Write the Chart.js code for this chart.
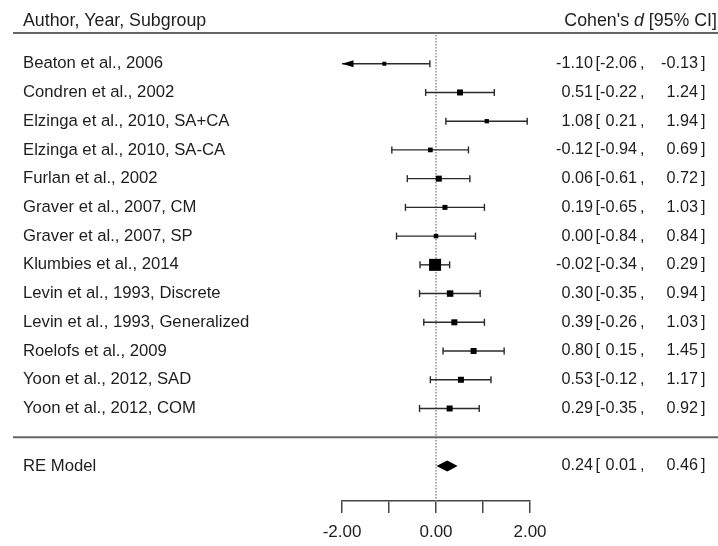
<!DOCTYPE html>
<html>
<head>
<meta charset="utf-8">
<script src="https://cdn.jsdelivr.net/npm/chart.js@4/dist/chart.umd.min.js"></script>
<style>
  html, body { margin: 0; padding: 0; background: #fff; }
  #wrap { width: 718px; height: 546px; position: relative; }
</style>
</head>
<body>
<div id="wrap"><canvas id="forest"></canvas></div>
<script>
// Forest plot - Cohen's d with 95% CI per study, random-effects summary at the bottom

const studies = [
  'Beaton et al., 2006',
  'Condren et al., 2002',
  'Elzinga et al., 2010, SA+CA',
  'Elzinga et al., 2010, SA-CA',
  'Furlan et al., 2002',
  'Graver et al., 2007, CM',
  'Graver et al., 2007, SP',
  'Klumbies et al., 2014',
  'Levin et al., 1993, Discrete',
  'Levin et al., 1993, Generalized',
  'Roelofs et al., 2009',
  'Yoon et al., 2012, SAD',
  'Yoon et al., 2012, COM'
];
const estimates = [-1.10, 0.51, 1.08, -0.12, 0.06, 0.19, 0.00, -0.02, 0.30, 0.39, 0.80, 0.53, 0.29];
const lowerCI   = [-2.06, -0.22, 0.21, -0.94, -0.61, -0.65, -0.84, -0.34, -0.35, -0.26, 0.15, -0.12, -0.35];
const upperCI   = [-0.13, 1.24, 1.94, 0.69, 0.72, 1.03, 0.84, 0.29, 0.94, 1.03, 1.45, 1.17, 0.92];
const boxSizes  = [4, 6, 4.3, 4.7, 6, 5, 4.5, 12, 6.5, 6, 6, 6, 6]; // px, side of the weight square

const summaryLabel = 'RE Model';
const summaryEst = 0.24;
const summaryLower = 0.01;
const summaryUpper = 0.46;

const xTicks = [-2, -1, 0, 1, 2];
const xLabelled = [-2, 0, 2];
const X_MIN = -2, X_MAX = 2;

const FONT = '"Liberation Sans", Arial, sans-serif';
const TEXT = '#1e1e1e';
const nStudies = studies.length;
const sepRow = nStudies;        // horizontal rule above summary
const summaryRow = nStudies + 1;
const headerRow = -1.5;
const headerRule = -1.07;

// datasets (higher order = drawn first / underneath)
const ciSets = studies.map((s, i) => ({
  data: [{ x: Math.max(lowerCI[i], X_MIN), y: i }, { x: upperCI[i], y: i }],
  showLine: true,
  borderColor: '#2a2a2a',
  borderWidth: 1.4,
  pointRadius: 0,
  clip: false,
  order: 2
}));

const caps = [];
studies.forEach((s, i) => {
  if (lowerCI[i] >= X_MIN) caps.push({ x: lowerCI[i], y: i });
  if (upperCI[i] <= X_MAX) caps.push({ x: upperCI[i], y: i });
});

const refLine = {
  data: [{ x: 0, y: -1 }, { x: 0, y: 15.22 }],
  showLine: true,
  borderColor: '#8a8a8a',
  borderWidth: 1.5,
  borderDash: [1.5, 1.5],
  pointRadius: 0,
  clip: false,
  order: 3
};

const capSet = {
  data: caps,
  pointStyle: 'line',
  rotation: 90,
  pointRadius: 3.5,
  borderColor: '#2a2a2a',
  borderWidth: 1.4,
  clip: false,
  order: 1
};

const boxSet = {
  data: estimates.map((v, i) => ({ x: v, y: i })),
  pointStyle: 'rect',
  pointRadius: boxSizes.map(s => s / Math.SQRT2),
  backgroundColor: '#000',
  borderWidth: 0,
  clip: false,
  order: 0
};

function fmt(v) { return v.toFixed(2); }

const forestText = {
  id: 'forestText',
  afterDraw(chart) {
    const c = chart.ctx;
    const xs = chart.scales.x, ys = chart.scales.y;
    const yp = v => ys.getPixelForValue(v);
    c.save();

    // rules
    c.strokeStyle = '#666';
    c.lineWidth = 2;
    [headerRule, sepRow].forEach(r => {
      c.beginPath();
      c.moveTo(13, yp(r));
      c.lineTo(718, yp(r));
      c.stroke();
    });

    c.fillStyle = TEXT;
    c.textBaseline = 'middle';

    // header
    const hFont = '17.8px ' + FONT, hItal = 'italic 17.8px ' + FONT;
    c.font = hFont;
    c.textAlign = 'left';
    c.fillText('Author, Year, Subgroup', 23, yp(headerRow));
    const partA = "Cohen's ", partB = 'd', partC = ' [95% CI]';
    const wC = c.measureText(partC).width;
    const wA = c.measureText(partA).width;
    c.font = hItal;
    const wB = c.measureText(partB).width;
    let hx = 717 - wA - wB - wC;
    c.font = hFont;
    c.fillText(partA, hx, yp(headerRow));
    c.font = hItal;
    c.fillText(partB, hx + wA, yp(headerRow));
    c.font = hFont;
    c.fillText(partC, hx + wA + wB, yp(headerRow));

    const labelFont = '16.7px ' + FONT;
    const valueFont = '16.2px ' + FONT;

    function ciText(y, est, lo, hi) {
      c.font = valueFont;
      c.textAlign = 'right';
      c.fillText(fmt(est), 593, y);
      c.fillText(fmt(lo), 637, y);
      c.fillText(fmt(hi), 698, y);
      c.textAlign = 'left';
      c.fillText('[', 595.5, y);
      c.fillText(',', 640, y);
      c.fillText(']', 701, y);
    }

    studies.forEach((s, i) => {
      c.font = labelFont;
      c.textAlign = 'left';
      c.fillText(s, 23, yp(i));
      ciText(yp(i), estimates[i], lowerCI[i], upperCI[i]);
    });
    c.font = labelFont;
    c.textAlign = 'left';
    c.fillText(summaryLabel, 23, yp(summaryRow));
    ciText(yp(summaryRow), summaryEst, summaryLower, summaryUpper);

    // arrows for CIs running past the axis
    c.fillStyle = '#000';
    studies.forEach((s, i) => {
      if (lowerCI[i] < X_MIN) {
        const tx = xs.getPixelForValue(X_MIN), ty = yp(i);
        c.beginPath();
        c.moveTo(tx, ty);
        c.lineTo(tx + 11.5, ty - 3.6);
        c.lineTo(tx + 11.5, ty + 3.6);
        c.closePath();
        c.fill();
      }
    });

    // summary diamond
    const dy = yp(summaryRow);
    c.beginPath();
    c.moveTo(xs.getPixelForValue(summaryLower), dy);
    c.lineTo(xs.getPixelForValue(summaryEst), dy - 5.5);
    c.lineTo(xs.getPixelForValue(summaryUpper), dy);
    c.lineTo(xs.getPixelForValue(summaryEst), dy + 5.5);
    c.closePath();
    c.fill();

    c.restore();
  }
};

new Chart(document.getElementById('forest'), {
  type: 'scatter',
  data: { datasets: [refLine, ...ciSets, capSet, boxSet] },
  options: {
    responsive: true,
    maintainAspectRatio: false,
    animation: false,
    layout: { padding: { left: 342, right: 188, top: 35, bottom: 0 } },
    plugins: { legend: { display: false }, tooltip: { enabled: false } },
    scales: {
      x: {
        type: 'linear',
        position: 'bottom',
        min: X_MIN,
        max: X_MAX,
        afterBuildTicks: s => { s.ticks = xTicks.map(v => ({ value: v })); },
        afterFit: s => { s.height = 45; },
        ticks: {
          autoSkip: false,
          maxRotation: 0,
          padding: 9,
          color: TEXT,
          font: { size: 17, family: FONT },
          callback: v => xLabelled.includes(v) ? fmt(v) : ''
        },
        grid: { drawOnChartArea: false, drawTicks: true, tickLength: 12, color: '#444', lineWidth: 1.5 },
        border: { display: true, color: '#444', width: 1.5 }
      },
      y: {
        type: 'linear',
        display: false,
        reverse: true,
        min: -1,
        max: 15.22
      }
    }
  },
  plugins: [forestText]
});
</script>
</body>
</html>
